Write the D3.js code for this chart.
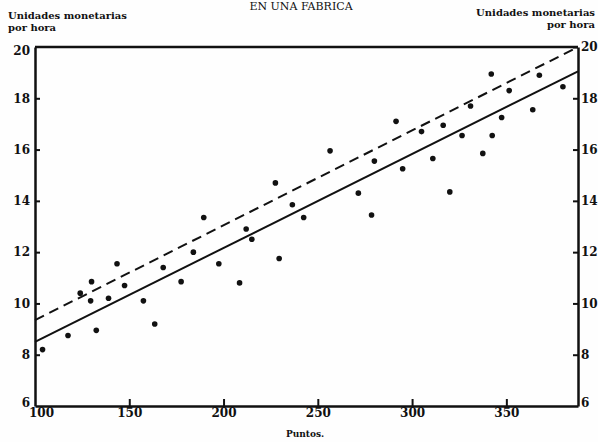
<!DOCTYPE html>
<html>
<head>
<meta charset="utf-8">
<script src="https://cdn.jsdelivr.net/npm/d3@7"></script>
<style>
  html, body { margin: 0; padding: 0; background: #fefefe; }
  svg { display: block; }
  text { fill: #111; }
</style>
</head>
<body>
<script>
// ---- data ----
const xTicks = [100, 150, 200, 250, 300, 350];
const yTicks = [6, 8, 10, 12, 14, 16, 18, 20];
const pointsX = [104,117.5,124,130,129.5,132.5,139,143.5,147.5,157.5,163.5,168,177.5,184,189.5,197.5,208.5,212,215,229.5,227.5,236.5,242.5,256.5,271.5,278.5,280,291.5,295,305,311,316.5,320,326.5,331,337.5,342.5,342,347.5,351.5,364,367.5,380];
const pointsY = [8.2,8.75,10.4,10.85,10.1,8.95,10.2,11.55,10.7,10.1,9.2,11.4,10.85,12.0,13.35,11.55,10.8,12.9,12.5,11.75,14.7,13.85,13.35,15.95,14.3,13.45,15.55,17.1,15.25,16.7,15.65,16.95,14.35,16.55,17.7,15.85,16.55,18.95,17.25,18.3,17.55,18.9,18.45];
const solidX = [100, 388];
const solidY = [8.5, 19.05];
const dashedX = [100, 388];
const dashedY = [9.35, 20];
const titleText = "EN UNA FABRICA";
const yTitle = ["Unidades monetarias", "por hora"];
const xTitle = "Puntos.";

// ---- layout ----
const W = 598, H = 442;
const L = 35, R = 578, T = 47, B = 406;
const ink = "#111";

const svg = d3.select("body").append("svg").attr("width", W).attr("height", H);

const x = d3.scaleLinear().domain([100, 388]).range([L, R]);
const y = d3.scaleLinear().domain([6, 20]).range([B, T]);

// title fragment at top
svg.append("text").attr("x", 301).attr("y", 10).attr("text-anchor", "middle")
  .style("font-family", "'DejaVu Serif'").style("font-size", "11px").text(titleText);

// y titles
const ft = "'DejaVu Serif'";
svg.append("text").attr("x", 8).attr("y", 19).style("font-family", ft).style("font-weight", "bold").style("font-size", "10px").text(yTitle[0]);
svg.append("text").attr("x", 8).attr("y", 31).style("font-family", ft).style("font-weight", "bold").style("font-size", "10px").text(yTitle[1]);
svg.append("text").attr("x", 595).attr("y", 16).attr("text-anchor", "end").style("font-family", ft).style("font-weight", "bold").style("font-size", "10px").text(yTitle[0]);
svg.append("text").attr("x", 595).attr("y", 28).attr("text-anchor", "end").style("font-family", ft).style("font-weight", "bold").style("font-size", "10px").text(yTitle[1]);

// axes
function styleAxis(g) {
  g.select(".domain").attr("stroke", ink).attr("stroke-width", 2.5);
  g.selectAll(".tick line").attr("stroke", ink).attr("stroke-width", 2);
  g.selectAll(".tick text").style("font-family", ft).style("font-weight", "bold").style("font-size", "12px").attr("fill", ink);
}

const gx = svg.append("g").attr("transform", `translate(0,${B})`)
  .call(d3.axisBottom(x).tickValues(xTicks).tickSize(-7).tickSizeOuter(0).tickFormat(d3.format("d")));
styleAxis(gx);
gx.selectAll(".tick text").attr("y", 11).attr("dy", 0);
gx.selectAll(".tick").filter(d => d === 100).select("line").remove();
gx.selectAll(".tick").filter(d => d === 100).select("text").attr("dx", 6);

const gl = svg.append("g").attr("transform", `translate(${L},0)`)
  .call(d3.axisLeft(y).tickValues(yTicks).tickSize(-5).tickSizeOuter(0).tickPadding(5));
styleAxis(gl);
gl.selectAll(".tick").filter(d => d === 20 || d === 6).select("line").remove();
gl.selectAll(".tick").filter(d => d === 20).select("text").attr("dy", "0.6em");
gl.selectAll(".tick").filter(d => d === 6).select("text").attr("dy", "0.05em");

const gr = svg.append("g").attr("transform", `translate(${R},0)`)
  .call(d3.axisRight(y).tickValues(yTicks).tickSize(-5).tickSizeOuter(0).tickPadding(3));
styleAxis(gr);
gr.selectAll(".tick").filter(d => d === 6).select("line").remove();
gr.selectAll(".tick").filter(d => d === 6).select("text").attr("dy", "0.05em");

// top frame line
svg.append("line").attr("x1", x(100)).attr("x2", x(388)).attr("y1", y(20)).attr("y2", y(20))
  .attr("stroke", ink).attr("stroke-width", 2.5);

// x title
svg.append("text").attr("x", 305).attr("y", 437).attr("text-anchor", "middle")
  .style("font-family", ft).style("font-weight", "bold").style("font-size", "9px").text(xTitle);

// lines
const line = d3.line().x(d => x(d[0])).y(d => y(d[1]));
svg.append("path").datum(d3.zip(solidX, solidY)).attr("d", line)
  .attr("fill", "none").attr("stroke", ink).attr("stroke-width", 2);
svg.append("path").datum(d3.zip(dashedX, dashedY)).attr("d", line)
  .attr("fill", "none").attr("stroke", ink).attr("stroke-width", 2).attr("stroke-dasharray", "10,6");

// points
svg.append("g").selectAll("circle").data(d3.zip(pointsX, pointsY)).join("circle")
  .attr("cx", d => x(d[0])).attr("cy", d => y(d[1])).attr("r", 2.8).attr("fill", ink);
</script>
</body>
</html>
